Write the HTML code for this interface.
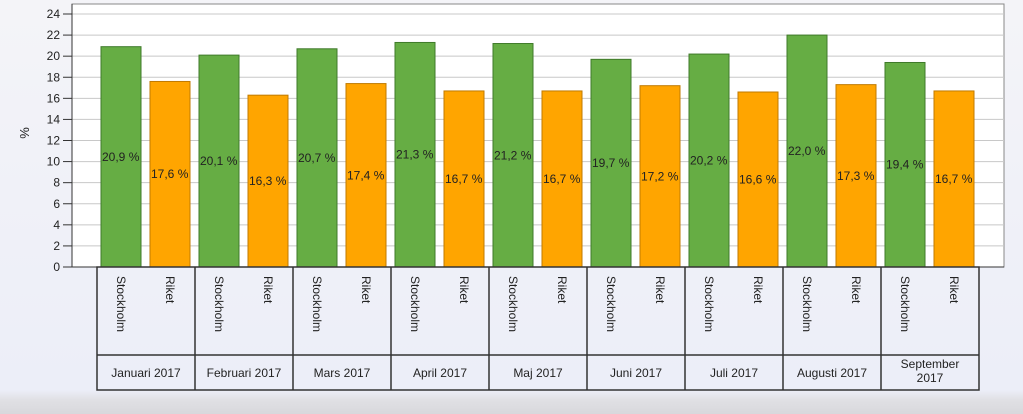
<!DOCTYPE html>
<html><head><meta charset="utf-8"><style>
html,body{margin:0;padding:0;width:1023px;height:414px;overflow:hidden;font-family:"Liberation Sans",sans-serif}
body{background:linear-gradient(#f4f4f8,#eceef8 390px,#e0e0e4 400px,#d8d8dc)}
</style></head><body>
<svg id="chart" width="1023" height="414" xmlns="http://www.w3.org/2000/svg" font-family="Liberation Sans, sans-serif"></svg>
<script>
const months=["Januari 2017","Februari 2017","Mars 2017","April 2017","Maj 2017","Juni 2017","Juli 2017","Augusti 2017","September 2017"];
const seriesNames=["Stockholm","Riket"];
const stockholm=[20.9,20.1,20.7,21.3,21.2,19.7,20.2,22.0,19.4];
const riket=[17.6,16.3,17.4,16.7,16.7,17.2,16.6,17.3,16.7];
const yTicks=[0,2,4,6,8,10,12,14,16,18,20,22,24];
const colors=["#66ad44","#ffa500"];
const strokes=["#3f7a2a","#c07a00"];

const svg=document.getElementById('chart');
const NS="http://www.w3.org/2000/svg";
function mk(t,a,txt){const e=document.createElementNS(NS,t);for(const k in a)e.setAttribute(k,a[k]);if(txt!==undefined)e.textContent=txt;svg.appendChild(e);return e;}
const plotL=72,plotR=1004,plotT=4,plotB=267;
const y0=267,yPerUnit=(267-14)/24;
const Y=v=>y0-v*yPerUnit;
const groupL=97,groupW=98;
const X=(i,s)=>groupL+i*groupW+4+s*49;
const barW=40;

let e=mk('rect',{x:plotL,y:plotT,width:plotR-plotL,height:plotB-plotT,fill:'#fff',stroke:'#888'});


yTicks.forEach(v=>{
  let g=mk('line',{x1:plotL,x2:plotR,y1:Y(v),y2:Y(v),stroke:'#c8c8c8'});
  
  
  let t=mk('line',{x1:63,x2:plotL,y1:Y(v),y2:Y(v),stroke:'#333'});
  
  
  let l=mk('text',{x:60,y:Y(v)+4,'text-anchor':'end','font-size':12,fill:'#222'},String(v));
  
  
});
e=mk('line',{x1:plotL,x2:plotL,y1:plotT,y2:plotB,stroke:'#333'});


e=mk('text',{x:0,y:0,transform:'translate(29,133) rotate(-90)','text-anchor':'middle','font-size':13,fill:'#222'},'%');



[stockholm,riket].forEach((arr,s)=>{
  arr.forEach((v,i)=>{
    let b=mk('rect',{x:X(i,s),y:Y(v),width:barW,height:y0-Y(v),fill:colors[s],stroke:strokes[s],'stroke-width':1});
    
    
    let t=mk('text',{x:X(i,s)+1,y:(Y(v)+y0)/2+4,'font-size':12,fill:'#222'},v.toFixed(1).replace('.',',')+' %');
    
    
  });
});
e=mk('line',{x1:plotL,x2:plotR,y1:plotB,y2:plotB,stroke:'#333'});



// category table
const boxB=390,midY=355;
e=mk('rect',{x:groupL,y:plotB,width:groupW*months.length,height:boxB-plotB,fill:'none',stroke:'#333','stroke-width':1.5});


e=mk('line',{x1:groupL,x2:groupL+groupW*months.length,y1:midY,y2:midY,stroke:'#333','stroke-width':1.5});


months.forEach((m,i)=>{
  const gx=groupL+i*groupW;
  if(i>0){let d=mk('line',{x1:gx,x2:gx,y1:plotB,y2:boxB,stroke:'#333','stroke-width':1.5});
    
    }
  seriesNames.forEach((n,s)=>{
    const cx=X(i,s)+barW/2;
    let t=mk('text',{x:0,y:0,transform:`translate(${cx-4},276) rotate(90)`,'font-size':12,fill:'#222'},n);
    
    
  });
  const parts=m==="September 2017"?["September","2017"]:[m];
  parts.forEach((p,k)=>{
    let t=mk('text',{x:gx+groupW/2,y:parts.length>1?368+k*14:377,'text-anchor':'middle','font-size':12,fill:'#222'},p);
    
    
  });
});
</script>
</body></html>
